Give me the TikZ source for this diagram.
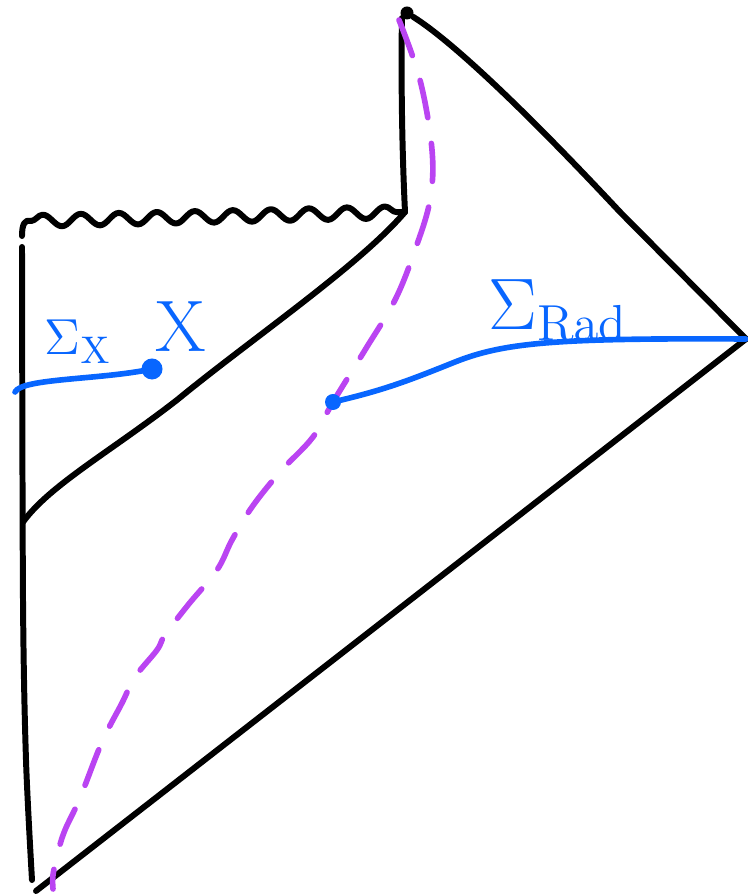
\documentclass[tikz,border=0pt]{standalone}
\usepackage{amsmath,amssymb}
\usepackage{tikz}
\usetikzlibrary{decorations.pathmorphing,positioning}
\definecolor{sigblue}{RGB}{8,102,255}
\definecolor{qespurple}{RGB}{186,68,242}

\begin{document}
\begin{tikzpicture}[x=0.01cm,y=-0.01cm,line cap=round,line join=round,
  bdry/.style={draw=black,line width=1.7pt},
  sing/.style={bdry,decorate,decoration={snake,amplitude=0.06cm,segment length=0.38cm}},
  qes/.style={draw=qespurple,line width=1.6pt,dash pattern=on 0.38cm off 0.26cm},
  slice/.style={draw=sigblue,line width=1.6pt},
  slicept/.style={circle,fill=sigblue,inner sep=0pt,minimum size=#1},
  lab/.style={text=sigblue,inner sep=0pt}]
\useasboundingbox (0,0) rectangle (747,895);

% corners of the diagram
\coordinate (C) at (405,212);
\coordinate (R) at (746,339);
\coordinate (B) at (36,891);
\coordinate (sw) at (31,221);
\coordinate (H) at (23,522);
\coordinate (xl) at (15,392);
\node[circle,fill=black,inner sep=0pt,minimum size=0.13cm] (tip) at (407,13) {};

% boundaries
\draw[bdry] (sw) .. controls (25,219) and (22,224) .. (22,236);
\draw[bdry] plot[smooth] coordinates {(22,247) (23,600) (26,760) (32,880)};
\draw[sing] (sw) -- (C);
\draw[bdry] (C) .. controls (402,150) and (401,80) .. (tip.south west);
\draw[bdry] (tip) .. controls (450,40) and (520,105) .. (620,212) -- (R);
\draw[bdry] (R) -- (B);
\draw[bdry] (C) .. controls (360,265) and (250,340) .. (177,400) .. controls (110,452) and (50,485) .. (H);

% dashed curve
\draw[qes] plot[smooth,tension=0.6] coordinates {(399,20) (420,80) (432,150) (430,200) (415,250) (395,300) (365,350) (333,402) (313,437) (280,472) (252,507) (232,540) (217,570) (188,605) (165,635) (157,650) (135,677) (122,703) (102,742) (80,798) (65,830) (58,852) (53,875) (53,889)};

% slices
\node[slicept=0.21cm] (x) at (152,369) {};
\node[slicept=0.16cm] (rd) at (333,402) {};
\draw[slice] (xl) .. controls (22,378) and (100,380) .. (x.center);
\draw[slice] (rd.center) .. controls (385,390) and (410,380) .. (455,362) .. controls (505,342) and (560,338) .. (R);

\node[lab,font=\fontsize{15}{18}\selectfont] (sxl) at (78,342) {$\Sigma_{\mathrm{X}}$};
\node[lab,font=\fontsize{22}{26}\selectfont] (xlab) at (181,327) {$\mathrm{X}$};
\node[lab,font=\fontsize{20}{24}\selectfont] (srad) at (558,310) {$\Sigma_{\mathrm{Rad}}$};
\end{tikzpicture}
\end{document}
